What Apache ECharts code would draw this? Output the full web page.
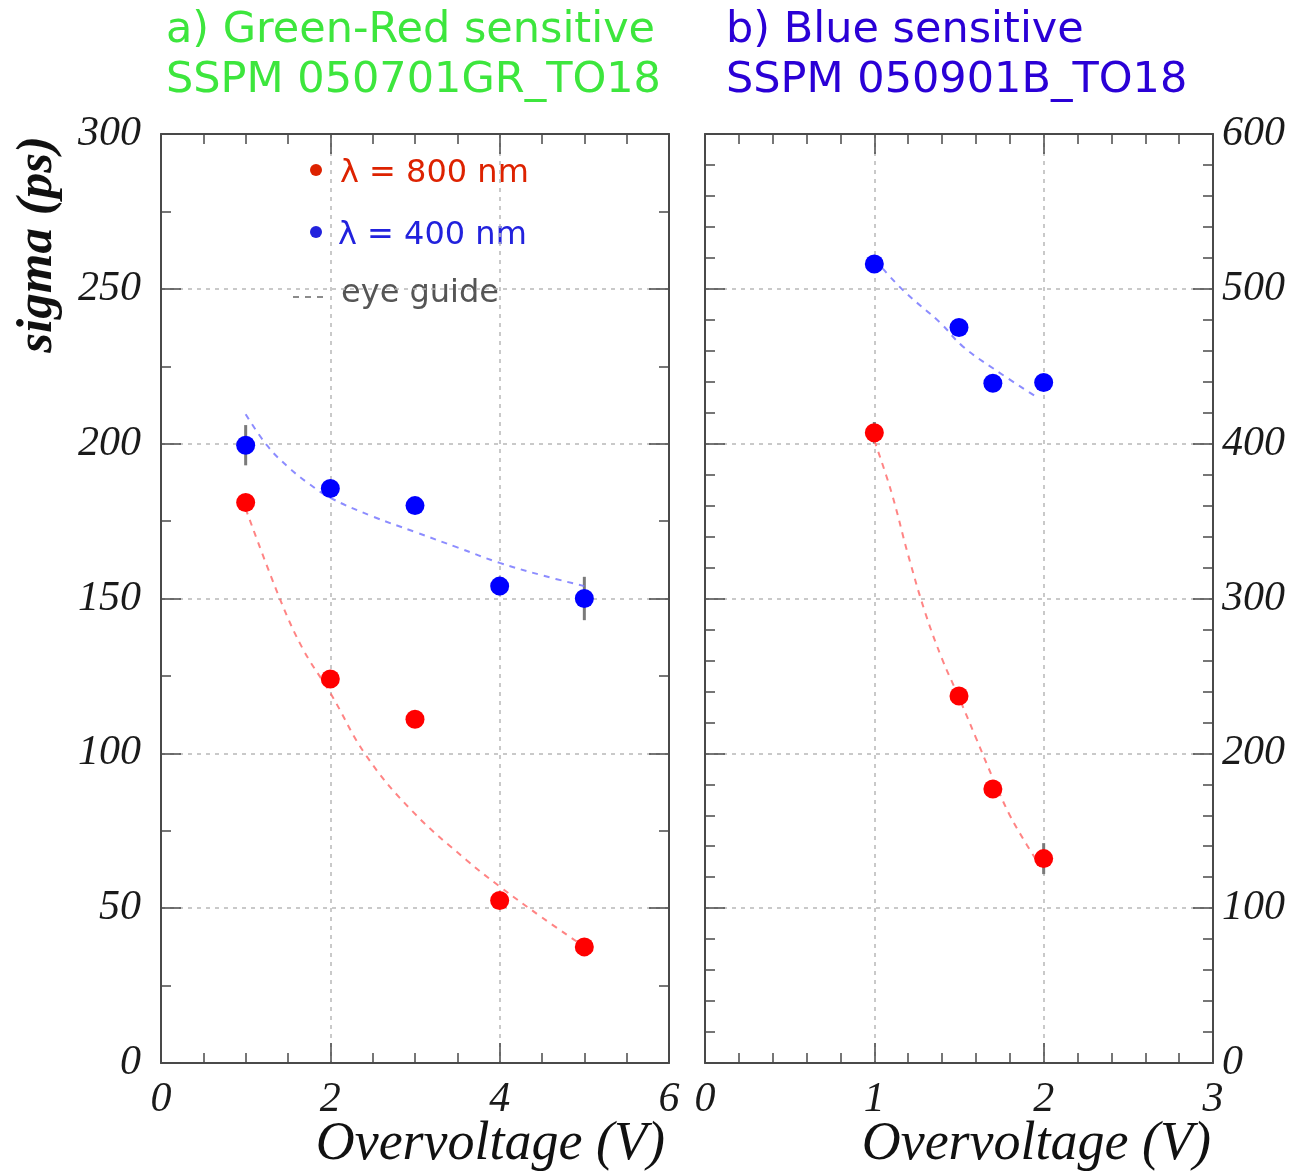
<!DOCTYPE html>
<html>
<head>
<meta charset="utf-8">
<script src="https://cdn.jsdelivr.net/npm/echarts@6/dist/echarts.min.js"></script>
<style>
  html, body { margin: 0; padding: 0; background: #ffffff; }
  #chart { width: 1293px; height: 1174px; }
</style>
</head>
<body>
<div id="chart"></div>
<script>
// ---- a) Green-Red sensitive SSPM ----
const leftX = [1, 2, 3, 4, 5];
const leftRed = [181, 124, 111, 52.5, 37.5];
const leftRedErr = [2, 2, 2, 2, 2];
const leftBlue = [199.5, 185.5, 180, 154, 150];
const leftBlueErr = [6.5, 2.5, 2.5, 3, 7];
// eye-guide curves (panel a)
const leftRedGuideX = [1.0, 1.41, 1.68, 2.0, 2.43, 2.98, 3.61, 4.0, 4.5, 4.95];
const leftRedGuideY = [179, 149.5, 133.5, 119.5, 99, 81, 65.5, 57, 47, 38.5];
const leftBlueGuideX = [1.0, 1.25, 1.5, 1.75, 2.0, 2.5, 3.0, 3.5, 4.0, 4.5, 5.0];
const leftBlueGuideY = [209.5, 199.5, 192.5, 187, 182.5, 176.5, 171.5, 166.5, 161.5, 157.5, 154];

// ---- b) Blue sensitive SSPM ----
const rightX = [1, 1.5, 1.7, 2];
const rightRed = [407, 237, 177, 132];
const rightRedErr = [7, 3, 3, 10];
const rightBlue = [516, 475, 439, 439.5];
const rightBlueErr = [4, 4, 4, 4];
// eye-guide curves (panel b)
const rightRedGuideX = [1.0, 1.1, 1.2, 1.3, 1.4, 1.5, 1.6, 1.7, 1.8, 1.9, 1.98];
const rightRedGuideY = [402, 369, 328, 291, 261, 236, 210, 184, 160, 141, 127];
const rightBlueGuideX = [1.05, 1.18, 1.39, 1.52, 1.71, 1.96];
const rightBlueGuideY = [513, 498, 478, 463, 448, 430];

// axis ranges and tick labels
const leftXTicks = [0, 2, 4, 6];
const leftYTicks = [0, 50, 100, 150, 200, 250, 300];
const rightXTicks = [0, 1, 2, 3];
const rightYTicks = [0, 100, 200, 300, 400, 500, 600];

const titleA = ['a) Green-Red sensitive', 'SSPM 050701GR_TO18'];
const titleB = ['b) Blue sensitive', 'SSPM 050901B_TO18'];
const legendNames = ['\u03bb = 800 nm', '\u03bb = 400 nm', 'eye guide'];
const xName = 'Overvoltage (V)';
const yName = 'sigma (ps)';

const FRAME = '#4a4a4a';
const LABEL_FONT = { fontFamily: 'Liberation Serif', fontStyle: 'italic', fontSize: 42, color: '#1a1a1a' };
const GRID_LINE = { color: '#b8b8b8', width: 1.5, type: [4, 5] };

function pairs(xs, ys) { return xs.map((x, i) => [x, ys[i]]); }
function triples(xs, ys, es) { return xs.map((x, i) => [x, ys[i], es[i]]); }

function frameParts(minorSplit) {
  return {
    axisLine: { show: true, onZero: false, lineStyle: { color: FRAME, width: 2 } },
    axisTick: { show: true, inside: true, length: 20, lineStyle: { color: FRAME, width: 1.5 } },
    minorTick: { show: true, splitNumber: minorSplit, length: 10, lineStyle: { color: FRAME, width: 1.5 } }
  };
}

function xAxisPair(grid, max, interval, minorSplit, ticks) {
  const common = Object.assign({ gridIndex: grid, type: 'value', min: ticks[0], max: max, interval: interval },
                               frameParts(minorSplit));
  return [
    Object.assign({}, common, {
      position: 'bottom',
      axisLabel: Object.assign({ show: true, margin: 16 }, LABEL_FONT),
      splitLine: { show: true, lineStyle: GRID_LINE }
    }),
    Object.assign({}, common, {
      position: 'top',
      axisLabel: { show: false },
      splitLine: { show: false }
    })
  ];
}

function yAxisPair(grid, ticks, interval, minorSplit, labelSide) {
  const common = Object.assign({ gridIndex: grid, type: 'value', min: ticks[0], max: ticks[ticks.length - 1], interval: interval },
                               frameParts(minorSplit));
  return [
    Object.assign({}, common, {
      position: 'left',
      axisLabel: labelSide === 'left' ? Object.assign({ show: true, margin: 20 }, LABEL_FONT) : { show: false },
      splitLine: { show: true, lineStyle: GRID_LINE }
    }),
    Object.assign({}, common, {
      position: 'right',
      axisLabel: labelSide === 'right' ? Object.assign({ show: true, margin: 9 }, LABEL_FONT) : { show: false },
      splitLine: { show: false }
    })
  ];
}

function errorBars(name, xi, yi, data) {
  return {
    type: 'custom', name: name, xAxisIndex: xi, yAxisIndex: yi, z: 1, silent: true,
    renderItem: function (params, api) {
      const x = api.value(0), y = api.value(1), e = api.value(2);
      const p1 = api.coord([x, y - e]);
      const p2 = api.coord([x, y + e]);
      return { type: 'line', shape: { x1: p1[0], y1: p1[1], x2: p2[0], y2: p2[1] },
               style: { stroke: '#7a7a7a', lineWidth: 3 } };
    },
    data: data
  };
}

function dots(name, xi, yi, data, color) {
  return {
    type: 'scatter', name: name, xAxisIndex: xi, yAxisIndex: yi, z: 3,
    symbol: 'circle', symbolSize: 19, itemStyle: { color: color, opacity: 1 },
    data: data
  };
}

function guide(xi, yi, data, color) {
  return {
    type: 'line', name: legendNames[2], xAxisIndex: xi, yAxisIndex: yi, z: 2,
    smooth: 0.4, showSymbol: false, symbol: 'none',
    lineStyle: { color: color, width: 2, type: [6, 6] },
    data: data
  };
}

function axisTitle(x, y, text) {
  return { type: 'text', x: x, y: y,
    style: { text: text, fontFamily: 'Liberation Serif', fontStyle: 'italic', fontSize: 54, fill: '#111',
             align: 'right', verticalAlign: 'middle' } };
}

const xA = xAxisPair(0, 6, 2, 4, leftXTicks);
const xB = xAxisPair(1, 3, 1, 5, rightXTicks);
const yA = yAxisPair(0, leftYTicks, 50, 2, 'left');
const yB = yAxisPair(1, rightYTicks, 100, 5, 'right');

const option = {
  backgroundColor: '#ffffff',
  animation: false,
  title: [
    { text: titleA.join('\n'), left: 166, top: 6, padding: 0,
      textStyle: { fontFamily: 'DejaVu Sans', fontSize: 43, fontWeight: 'normal', color: '#3de63d', lineHeight: 50 } },
    { text: titleB.join('\n'), left: 726, top: 6, padding: 0,
      textStyle: { fontFamily: 'DejaVu Sans', fontSize: 43, fontWeight: 'normal', color: '#2a00d6', lineHeight: 50 } }
  ],
  grid: [
    { left: 161, top: 134, width: 508, height: 929, show: false, containLabel: false, outerBoundsMode: 'none' },
    { left: 705, top: 134, width: 508, height: 929, show: false, containLabel: false, outerBoundsMode: 'none' }
  ],
  xAxis: [xA[0], xA[1], xB[0], xB[1]],
  yAxis: [yA[0], yA[1], yB[0], yB[1]],
  series: [
    // panel a
    errorBars('err800a', 0, 0, triples(leftX, leftRed, leftRedErr)),
    errorBars('err400a', 0, 0, triples(leftX, leftBlue, leftBlueErr)),
    guide(0, 0, pairs(leftRedGuideX, leftRedGuideY), 'rgba(255,110,110,0.85)'),
    guide(0, 0, pairs(leftBlueGuideX, leftBlueGuideY), 'rgba(120,120,255,0.85)'),
    dots(legendNames[0], 0, 0, pairs(leftX, leftRed), '#ff0000'),
    dots(legendNames[1], 0, 0, pairs(leftX, leftBlue), '#0000ff'),
    // panel b
    errorBars('err800b', 2, 2, triples(rightX, rightRed, rightRedErr)),
    errorBars('err400b', 2, 2, triples(rightX, rightBlue, rightBlueErr)),
    guide(2, 2, pairs(rightRedGuideX, rightRedGuideY), 'rgba(255,110,110,0.85)'),
    guide(2, 2, pairs(rightBlueGuideX, rightBlueGuideY), 'rgba(120,120,255,0.85)'),
    dots(legendNames[0], 2, 2, pairs(rightX, rightRed), '#ff0000'),
    dots(legendNames[1], 2, 2, pairs(rightX, rightBlue), '#0000ff')
  ],
  graphic: [
    // axis titles
    { type: 'text', x: 38, y: 136, rotation: Math.PI / 2,
      style: { text: yName, fontFamily: 'Liberation Serif', fontStyle: 'italic', fontWeight: 'bold',
               fontSize: 51, fill: '#111', align: 'right', verticalAlign: 'middle' } },
    axisTitle(665, 1145, xName),
    axisTitle(1211, 1145, xName),
    // legend box inside panel a
    { type: 'circle', shape: { cx: 316, cy: 170, r: 6 }, style: { fill: '#dd2200' } },
    { type: 'text', x: 340, y: 174,
      style: { text: legendNames[0], fontFamily: 'DejaVu Sans', fontSize: 32, fill: '#dd2200', verticalAlign: 'middle' } },
    { type: 'circle', shape: { cx: 316, cy: 232, r: 6 }, style: { fill: '#2222dd' } },
    { type: 'text', x: 338, y: 236,
      style: { text: legendNames[1], fontFamily: 'DejaVu Sans', fontSize: 32, fill: '#2222dd', verticalAlign: 'middle' } },
    { type: 'line', shape: { x1: 293, y1: 297, x2: 326, y2: 297 },
      style: { stroke: '#666', lineWidth: 1.5, lineDash: [6, 6] } },
    { type: 'text', x: 341, y: 294,
      style: { text: legendNames[2], fontFamily: 'DejaVu Sans', fontSize: 32, fill: '#555', verticalAlign: 'middle' } }
  ]
};

const chart = echarts.init(document.getElementById('chart'), null, { renderer: 'canvas' });
chart.setOption(option);
</script>
</body>
</html>
